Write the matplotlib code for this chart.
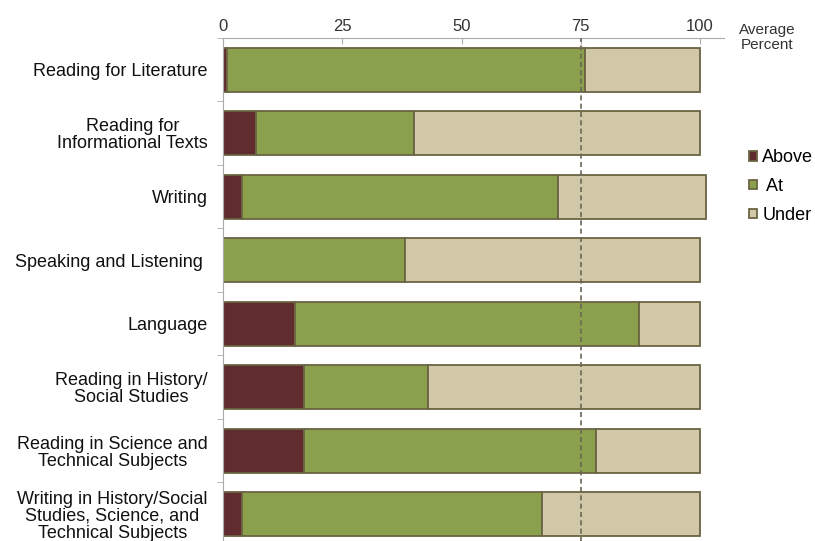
import matplotlib.pyplot as plt
import numpy as np

plt.rcParams['font.family'] = ['Liberation Sans', 'DejaVu Sans']

# strands, top to bottom
categories = ['Reading for Literature',
              'Reading for\nInformational Texts',
              'Writing',
              'Speaking and Listening ',
              'Language',
              'Reading in History/\nSocial Studies',
              'Reading in Science and\nTechnical Subjects',
              'Writing in History/Social\nStudies, Science, and\nTechnical Subjects']

above = [0.8, 6.9, 4.0, 0.0, 15.0, 16.9, 16.9, 4.0]
at = [75.1, 33.1, 66.2, 38.1, 72.2, 26.0, 61.2, 62.9]
under = [24.1, 60.0, 31.1, 61.9, 12.8, 57.1, 21.9, 33.1]

tick_vals = [0, 25, 50, 75, 100]
avg_line = 75

c_above = '#612c30'
c_at = '#8aa04c'
c_under = '#d1c8a8'
c_edge = '#6b6443'

fig = plt.figure(figsize=(8.15, 5.41), dpi=100)
ax = fig.add_axes([0.2736, -0.0092, 0.6147, 0.939])

y = np.arange(len(categories))
left_at = np.array(above)
left_under = left_at + np.array(at)

ax.barh(y, above, height=0.7, color=c_above, edgecolor=c_edge, lw=1.3, label='Above', zorder=2)
ax.barh(y, at, left=left_at, height=0.7, color=c_at, edgecolor=c_edge, lw=1.3, label=' At', zorder=2)
ax.barh(y, under, left=left_under, height=0.7, color=c_under, edgecolor=c_edge, lw=1.3, label='Under', zorder=2)

ax.axvline(avg_line, color='#6b6655', ls=(0, (3, 2)), lw=1.2, zorder=3)

ax.set_xlim(0, 105)
ax.set_ylim(len(categories) - 0.5, -0.5)

ax.xaxis.tick_top()
ax.set_xticks(tick_vals)
ax.set_xticklabels([str(v) for v in tick_vals])
ax.tick_params(axis='x', direction='in', length=4, color='#aaaaaa', labelsize=12,
               labelcolor='#333333', pad=3)

ax.set_yticks(y)
ax.set_yticklabels(categories, fontsize=13, multialignment='center', linespacing=1.02)
ax.tick_params(axis='y', length=0, pad=11, labelcolor='#111111')
ax.set_yticks(np.arange(len(categories) + 1) - 0.5, minor=True)
ax.tick_params(axis='y', which='minor', length=4, color='#aaaaaa')

for s in ['right', 'bottom']:
    ax.spines[s].set_visible(False)
ax.spines['top'].set_color('#aaaaaa')
ax.spines['left'].set_color('#aaaaaa')

fig.text(0.941, 0.93, 'Average\nPercent', ha='center', va='center', fontsize=11,
         color='#333333', linespacing=1.1)

ax.legend(loc='upper left', bbox_to_anchor=(1.035, 0.795), frameon=False, fontsize=13,
          handlelength=0.45, handleheight=0.45, handletextpad=0.3, labelspacing=0.65,
          borderaxespad=0)

fig.savefig('out.png', dpi=100)
